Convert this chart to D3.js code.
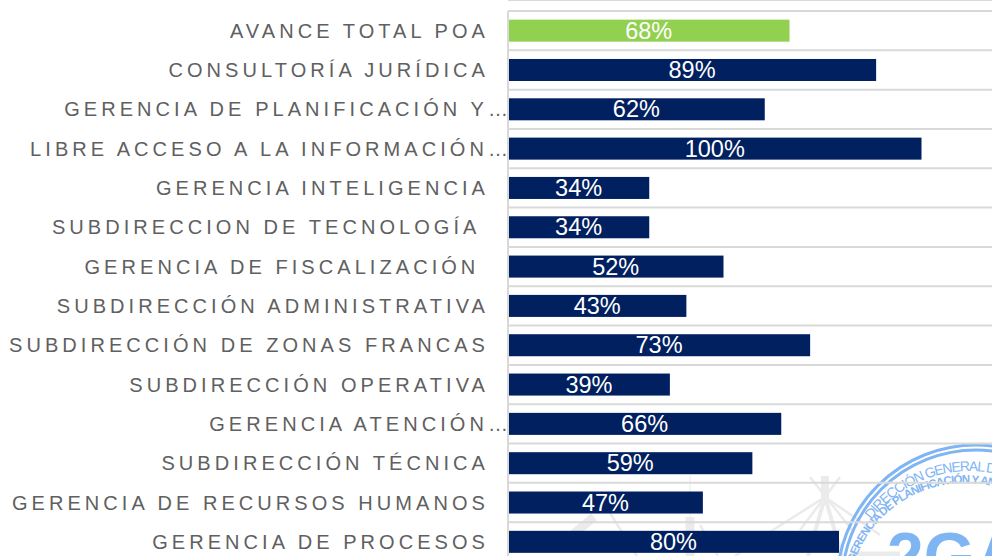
<!DOCTYPE html>
<html>
<head>
<meta charset="utf-8">
<script src="https://cdn.jsdelivr.net/npm/d3@7"></script>
<style>
  html, body { margin: 0; padding: 0; background: #fff; overflow: hidden; }
  svg { display: block; }
  text { font-family: "Liberation Sans", Arial, sans-serif; }
  .cat { font-size: 20px; letter-spacing: 4.06px; fill: #606060; white-space: pre; }
  .val { font-size: 23.5px; fill: #fff; }
</style>
</head>
<body>
<script>
const [width, height] = [992, 556];

const categories = [
  'AVANCE TOTAL POA',
  'CONSULTORÍA JURÍDICA',
  'GERENCIA DE PLANIFICACIÓN Y…',
  'LIBRE ACCESO A LA INFORMACIÓN…',
  'GERENCIA INTELIGENCIA',
  'SUBDIRECCION DE TECNOLOGÍA ',
  'GERENCIA DE FISCALIZACIÓN ',
  'SUBDIRECCIÓN ADMINISTRATIVA',
  'SUBDIRECCIÓN DE ZONAS FRANCAS',
  'SUBDIRECCIÓN OPERATIVA',
  'GERENCIA ATENCIÓN…',
  'SUBDIRECCIÓN TÉCNICA',
  'GERENCIA DE RECURSOS HUMANOS',
  'GERENCIA DE PROCESOS'
];
const values = [68, 89, 62, 100, 34, 34, 52, 43, 73, 39, 66, 59, 47, 80];
const barColors = ['#92d050', '#002060'];

// faint towers behind the chart: [x1, y1, x2, y2, stroke width]
const towerLines = [
  [825, 476, 825, 500, 8], [825, 497, 808, 556, 4], [825, 497, 842, 556, 4],
  [810, 477, 852, 530, 2.5], [840, 477, 800, 530, 2.5],
  [825, 497, 773, 530, 2.5], [773, 530, 735, 556, 2.5], [825, 497, 880, 535, 2.5],
  [690, 475, 690, 517, 1], [690, 517, 690, 556, 9],
  [594, 517, 560, 545, 9], [610, 513, 637, 556, 2.5], [700, 525, 718, 556, 2.5],
  [850, 554, 900, 554, 5]
];

const x = d3.scaleLinear().domain([0, 100]).range([509, 921.5]);
const y = d3.scaleBand().domain(d3.range(categories.length))
  .range([11, 561.5]).paddingInner(0.44).paddingOuter(0.22);

const svg = d3.select('body').append('svg')
  .attr('width', width)
  .attr('height', height);

// watermark goes under everything
const mark = svg.append('g').attr('class', 'mark');
mark.selectAll('line')
  .data(towerLines)
  .enter()
  .append('line')
  .attr('x1', d => d[0]).attr('y1', d => d[1])
  .attr('x2', d => d[2]).attr('y2', d => d[3])
  .attr('stroke', '#ebebeb')
  .attr('stroke-width', d => d[4]);

const sealColor = '#7fb5f3';
const seal = mark.append('g').attr('transform', 'translate(976,584)');
seal.selectAll('circle')
  .data([139, 134])
  .enter()
  .append('circle')
  .attr('r', d => d)
  .attr('fill', 'none')
  .attr('stroke', sealColor)
  .attr('stroke-width', 3);

const defs = svg.append('defs');
const ring = (r, start, end) => d3.arc()({innerRadius: r, outerRadius: r, startAngle: start, endAngle: end}).split('L')[0];
defs.append('path').attr('id', 'ringOuter').attr('d', ring(124, -0.92, 0.6));
defs.append('path').attr('id', 'ringInner').attr('d', ring(117, -1.25, 0.6));

// the two lettering rings sit a little off the centre of the outer circles
seal.append('text')
  .attr('transform', 'translate(-6,11)')
  .attr('font-size', 14).attr('letter-spacing', -1.3).attr('fill', sealColor)
  .append('textPath').attr('href', '#ringOuter')
  .text('DIRECCIÓN GENERAL DE');
seal.append('text')
  .attr('transform', 'translate(-11,16)')
  .attr('font-size', 11.5).attr('font-weight', 'bold').attr('letter-spacing', -0.9).attr('fill', sealColor)
  .append('textPath').attr('href', '#ringInner')
  .text('GERENCIA DE PLANIFICACIÓN Y ANÁLISIS');
seal.append('text')
  .attr('x', -89).attr('y', -5)
  .attr('font-size', 66).attr('font-weight', 'bold').attr('fill', sealColor)
  .text('2GA');

// horizontal separators between the rows
const step = y.step();
const gridY = d3.range(categories.length + 1).map(i => y(i) - (step - y.bandwidth()) / 2);
svg.append('g').selectAll('line')
  .data(gridY)
  .enter()
  .append('line')
  .attr('x1', 508).attr('x2', width)
  .attr('y1', d => d).attr('y2', d => d)
  .attr('stroke', '#d9d9d9')
  .attr('stroke-width', 2);

svg.append('line')
  .attr('x1', 508).attr('x2', 508)
  .attr('y1', gridY[0]).attr('y2', height)
  .attr('stroke', '#d9d9d9')
  .attr('stroke-width', 2);

svg.append('g').selectAll('rect')
  .data(values)
  .enter()
  .append('rect')
  .attr('x', x(0))
  .attr('y', (d, i) => y(i))
  .attr('width', d => x(d) - x(0))
  .attr('height', y.bandwidth())
  .attr('fill', (d, i) => i === 0 ? barColors[0] : barColors[1]);

svg.append('g').selectAll('text')
  .data(values)
  .enter()
  .append('text')
  .attr('class', 'val')
  .attr('x', d => (x(d) + x(0)) / 2 - 0.5)
  .attr('y', (d, i) => y(i) + y.bandwidth() / 2 + 8)
  .attr('text-anchor', 'middle')
  .text(d => d + '%');

svg.append('g').selectAll('text')
  .data(categories)
  .enter()
  .append('text')
  .attr('class', 'cat')
  .attr('x', d => d.endsWith('…') ? 512 : 489)
  .attr('y', (d, i) => y(i) + y.bandwidth() / 2 + 7)
  .attr('text-anchor', 'end')
  .text(d => d);
</script>
</body>
</html>
